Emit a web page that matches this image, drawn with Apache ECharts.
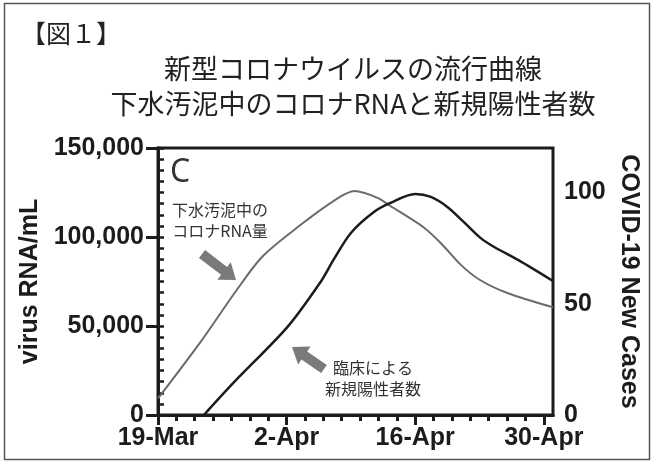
<!DOCTYPE html>
<html>
<head>
<meta charset="utf-8">
<script src="https://cdn.jsdelivr.net/npm/echarts@6/dist/echarts.min.js"></script>
<style>
  html, body { margin: 0; padding: 0; background: #fff; }
  #main { width: 653px; height: 463px; }
</style>
</head>
<body>
<div id="main"></div>
<script>
// 下水汚泥中のコロナRNA (days since 19-Mar, copies/mL)
const rnaDays = [0, 4.6, 8.55, 11.4, 15.5, 19.1, 21.4, 23.9, 25.3, 28.9, 30.8, 33.0, 35.1, 38.1, 43];
const rnaValues = [9300, 40800, 70100, 89200, 106700, 120200, 125800, 122000, 117400, 105500, 96500, 84200, 75700, 68400, 60500];

// 新規陽性者数 (days since 19-Mar, cases)
const caseDays = [5.0, 8.2, 14.1, 17.7, 19.1, 21.0, 23.5, 25.3, 28.0, 29.7, 31.5, 33.3, 35.1, 36.6, 39.2, 43];
const caseValues = [0, 14.4, 39.6, 59.8, 69.7, 81.8, 91.2, 95.3, 99.3, 98.0, 93.5, 86.7, 79.6, 75.5, 69.7, 60.2];

// x axis ticks
const xTickDays = [0, 14, 28, 42];
const xTickLabels = ['19-Mar', '2-Apr', '16-Apr', '30-Apr'];
const xMinorDays = [0, 2, 4, 6, 8, 10, 12, 14, 16, 18, 20, 22, 24, 26, 28, 30, 32, 34, 36, 38, 40, 42];

// right axis ticks
const caseLabelValues = [0, 50, 100];
const caseMinorValues = [0, 5, 10, 15, 20, 25, 30, 35, 40, 45, 50, 55, 60, 65, 70, 75, 80, 85, 90, 95, 100, 105, 110, 115, 120];

const INK = '#1c1c1c';
const AXIS_FONT = 'Liberation Sans';
const CJK_FONT = '"Noto Sans CJK JP"';

// ブロック矢印の頂点
function arrowPoints(tail, tip, shaftW, headW, headL) {
  const dx = tip[0] - tail[0], dy = tip[1] - tail[1];
  const len = Math.sqrt(dx * dx + dy * dy);
  const ux = dx / len, uy = dy / len;
  const px = -uy, py = ux;
  const bx = tip[0] - ux * headL, by = tip[1] - uy * headL;
  return [
    [tail[0] + px * shaftW / 2, tail[1] + py * shaftW / 2],
    [bx + px * shaftW / 2, by + py * shaftW / 2],
    [bx + px * headW / 2, by + py * headW / 2],
    tip,
    [bx - px * headW / 2, by - py * headW / 2],
    [bx - px * shaftW / 2, by - py * shaftW / 2],
    [tail[0] - px * shaftW / 2, tail[1] - py * shaftW / 2]
  ];
}

const chart = echarts.init(document.getElementById('main'));

const option = {
  backgroundColor: '#fff',
  animation: false,
  title: [
    {
      text: '【図１】',
      left: 16, top: 16,
      textStyle: { fontFamily: CJK_FONT, fontSize: 25, fontWeight: 'normal', color: '#222' }
    },
    {
      text: '新型コロナウイルスの流行曲線',
      left: 348, top: 50, textAlign: 'center',
      textStyle: { fontFamily: CJK_FONT, fontSize: 27, fontWeight: 'normal', color: '#222' }
    },
    {
      text: '下水汚泥中のコロナRNAと新規陽性者数',
      left: 348, top: 85, textAlign: 'center',
      textStyle: { fontFamily: CJK_FONT, fontSize: 27, fontWeight: 'normal', color: '#222' }
    }
  ],
  grid: {
    left: 158, right: 100, top: 148, bottom: 48,
    show: true, borderColor: INK, borderWidth: 3, backgroundColor: 'transparent'
  },
  xAxis: [
    {
      type: 'value', min: 0, max: 43, position: 'bottom',
      splitLine: { show: false },
      axisLine: { lineStyle: { color: INK, width: 3 } },
      axisTick: { length: 6, lineStyle: { color: INK, width: 3 }, customValues: xMinorDays },
      axisLabel: { show: false }
    },
    {
      type: 'value', min: 0, max: 43, position: 'bottom',
      splitLine: { show: false },
      axisLine: { lineStyle: { color: INK, width: 3 } },
      axisTick: { length: 10, lineStyle: { color: INK, width: 3 }, customValues: xTickDays },
      axisLabel: {
        customValues: xTickDays,
        formatter: v => xTickLabels[xTickDays.indexOf(v)] || '',
        margin: 11,
        fontFamily: AXIS_FONT, fontSize: 25, fontWeight: 'bold', color: INK
      }
    }
  ],
  yAxis: [
    {
      type: 'value', min: 0, max: 150000, interval: 50000, position: 'left',
      name: 'virus RNA/mL', nameLocation: 'middle', nameRotate: 90, nameGap: 113,
      nameTextStyle: { fontFamily: AXIS_FONT, fontSize: 25, fontWeight: 'bold', color: INK },
      splitLine: { show: false },
      axisLine: { show: true, lineStyle: { color: INK, width: 3 } },
      axisTick: { show: true, length: 12, lineStyle: { color: INK, width: 3 } },
      axisLabel: {
        margin: 14,
        formatter: v => v.toLocaleString('en-US'),
        fontFamily: AXIS_FONT, fontSize: 25, fontWeight: 'bold', color: INK
      }
    },
    {
      type: 'value', min: 0, max: 120, position: 'right',
      name: 'COVID-19 New Cases', nameLocation: 'middle', nameRotate: -90, nameGap: 62,
      nameTextStyle: { fontFamily: AXIS_FONT, fontSize: 25, fontWeight: 'bold', color: INK },
      splitLine: { show: false },
      axisLine: { show: true, lineStyle: { color: INK, width: 3 } },
      axisTick: { show: true, length: 6, lineStyle: { color: INK, width: 2.5 }, customValues: caseMinorValues },
      axisLabel: {
        customValues: caseLabelValues,
        margin: 11,
        fontFamily: AXIS_FONT, fontSize: 25, fontWeight: 'bold', color: INK
      }
    }
  ],
  series: [
    {
      name: '下水汚泥中のコロナRNA量',
      type: 'line', xAxisIndex: 0, yAxisIndex: 0,
      data: rnaDays.map((d, i) => [d, rnaValues[i]]),
      smooth: 0.3, showSymbol: false,
      lineStyle: { color: '#6b6b6b', width: 2 }
    },
    {
      name: '臨床による新規陽性者数',
      type: 'line', xAxisIndex: 0, yAxisIndex: 1,
      data: caseDays.map((d, i) => [d, caseValues[i]]),
      smooth: 0.3, showSymbol: false,
      lineStyle: { color: INK, width: 2.5 }
    }
  ],
  graphic: [
    {
      type: 'rect', silent: true,
      shape: { x: 4.5, y: 3.5, width: 645, height: 456 },
      style: { fill: 'none', stroke: '#555', lineWidth: 1.5 }
    },
    {
      type: 'text', left: 170, top: 157,
      style: { text: 'C', font: '32px "Noto Sans"', fill: '#333' }
    },
    {
      type: 'text', x: 220, y: 220,
      style: { text: '下水汚泥中の\nコロナRNA量', font: '16px ' + CJK_FONT, fill: '#333',
        align: 'center', verticalAlign: 'middle', lineHeight: 21 }
    },
    {
      type: 'text', x: 373, y: 378,
      style: { text: '臨床による\n新規陽性者数', font: '16px ' + CJK_FONT, fill: '#333',
        align: 'center', verticalAlign: 'middle', lineHeight: 21 }
    },
    {
      type: 'polygon',
      shape: { points: arrowPoints([202, 254], [236, 280], 10, 22, 15) },
      style: { fill: '#7a7a7a' }
    },
    {
      type: 'polygon',
      shape: { points: arrowPoints([324, 369], [292, 347], 10, 22, 15) },
      style: { fill: '#7a7a7a' }
    }
  ]
};

chart.setOption(option);
</script>
</body>
</html>
